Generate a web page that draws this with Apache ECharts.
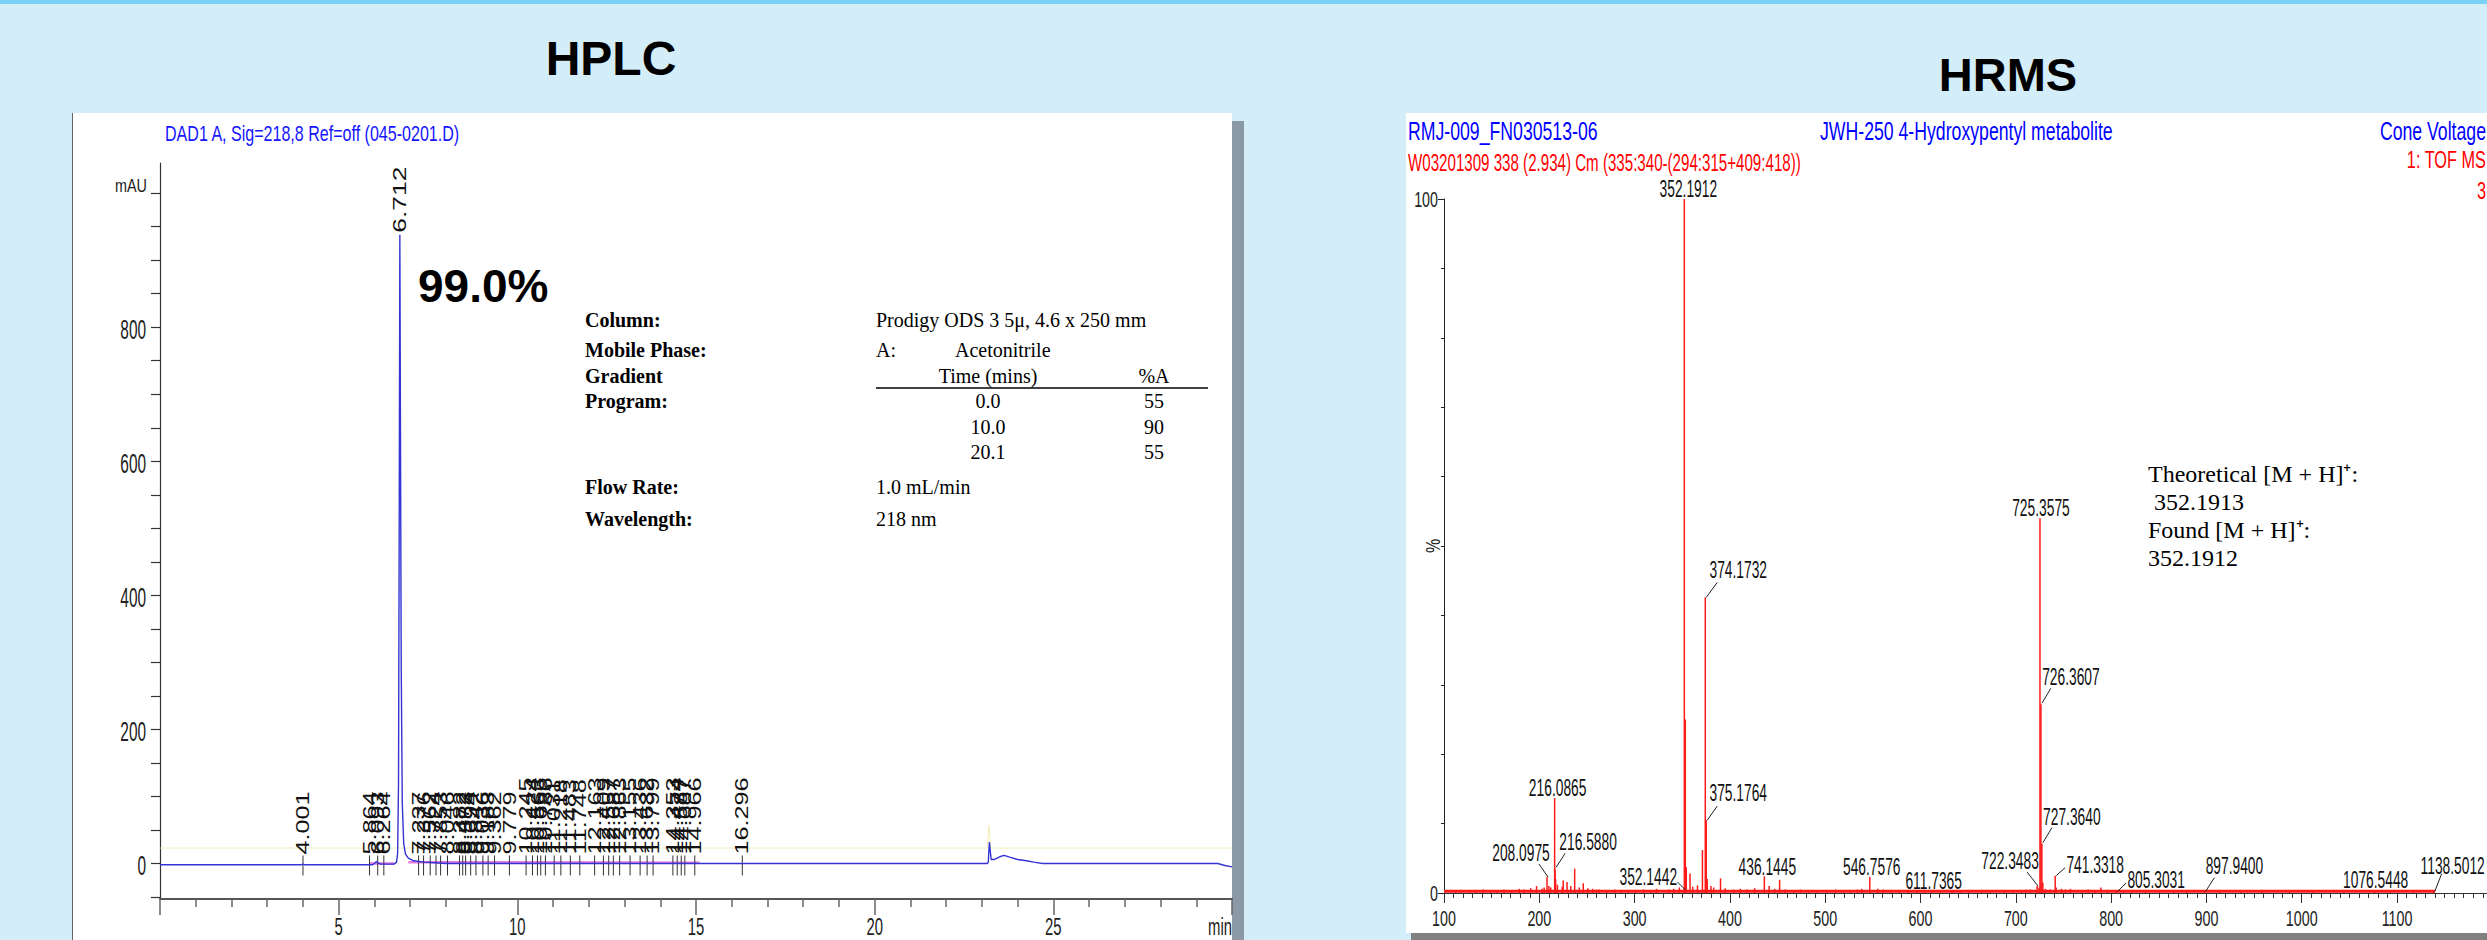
<!DOCTYPE html>
<html>
<head>
<meta charset="utf-8">
<script src="https://cdn.jsdelivr.net/npm/echarts@6/dist/echarts.min.js"></script>
<style>
html,body{margin:0;padding:0;}
body{width:2487px;height:940px;overflow:hidden;background:#d3edf9;position:relative;}
.strip{position:absolute;left:0;top:0;width:2487px;height:4px;background:#7cd2f6;}
.hplc-shadow{position:absolute;left:1232px;top:121px;width:12px;height:819px;background:#8b98a6;}
.hplc-panel{position:absolute;left:72px;top:113px;width:1160px;height:827px;background:#fff;border-left:1px solid #666;box-sizing:border-box;}
.hrms-shadow{position:absolute;left:1411px;top:933px;width:1076px;height:7px;background:#808080;}
.hrms-panel{position:absolute;left:1406px;top:113px;width:1081px;height:820px;background:#fff;}
#chart{position:absolute;left:0;top:0;width:2487px;height:940px;}
</style>
</head>
<body>
<div class="strip"></div>
<div class="hplc-shadow"></div>
<div class="hplc-panel"></div>
<div class="hrms-shadow"></div>
<div class="hrms-panel"></div>
<div id="chart"></div>
<script>
// ---------------- HPLC data ----------------
const hplcTime = [0, 3.95, 4.0, 4.05, 5.95, 6.02, 6.06, 6.1, 6.18, 6.55, 6.62, 6.65, 6.675, 6.695, 6.712, 6.73, 6.75, 6.78, 6.82, 6.87, 6.95, 7.1, 7.4, 8.0, 15.2, 23.15, 23.18, 23.21, 23.26, 23.35, 23.5, 23.62, 23.8, 24.0, 24.25, 24.45, 24.7, 29.6, 29.8, 30];
const hplcMAU  = [-2, -2, -1, -2, -2, 1, 3, 1, -1, -1, 2, 15, 120, 520, 938, 640, 300, 90, 30, 14, 8, 4, 2, 0, 0, 0, 2, 32, 6, 6, 10, 12, 9, 6, 4, 2, 0, 0, -3, -5];
const hplcRefTime = [0, 23.15, 23.2, 23.25, 30];
const hplcRefMAU  = [23, 23, 57, 23, 23];
const hplcIntTimeA = [5.85, 6.55];
const hplcIntMAUA  = [0, 0];
const hplcIntTimeB = [6.95, 15.1];
const hplcIntMAUB  = [2, 1];
const hplcPeakTimes = [4.001, 5.864, 6.093, 6.264, 7.237, 7.376, 7.562, 7.724, 7.853, 8.046, 8.382, 8.472, 8.553, 8.694, 8.842, 9.036, 9.183, 9.362, 9.779, 10.245, 10.424, 10.563, 10.655, 10.786, 11.031, 11.218, 11.483, 11.748, 12.163, 12.409, 12.557, 12.687, 12.863, 13.155, 13.436, 13.632, 13.799, 14.353, 14.474, 14.587, 14.687, 14.966, 16.296];
const hplcMainPeakTime = 6.712;
const hplcMainPeakHeight = 938;
const hplcXLabelValues = [5, 10, 15, 20, 25, 30];
const hplcXLabelTexts  = ['5', '10', '15', '20', '25', 'min'];
const hplcYLabelValues = [0, 200, 400, 600, 800];
const hplcYTickValues = [-50, 0, 50, 100, 150, 200, 250, 300, 350, 400, 450, 500, 550, 600, 650, 700, 750, 800, 850, 900, 950, 1000];

// ---------------- HRMS data ----------------
const msMz = [197.10, 205.07, 208.0975, 210.09, 216.0865, 216.5880, 217.09, 225.10, 229.12, 237.11, 246.13, 260.12, 352.1442, 352.1912, 353.1946, 354.1975, 358.17, 371.17, 374.1732, 375.1764, 376.18, 380.16, 390.17, 436.1445, 441.15, 452.15, 538.26, 546.7576, 555.26, 611.7365, 715.33, 722.3483, 724.35, 725.3575, 726.3607, 727.3640, 728.37, 741.3318, 742.33, 757.33, 789.31, 805.3031, 897.9400, 1076.5448, 1138.5012];
const msIntensity = [1.0, 0.8, 2.3, 1.0, 13.7, 3.4, 2.0, 1.8, 1.6, 3.5, 1.4, 0.5, 0.6, 100, 25.0, 3.7, 2.8, 6.2, 42.6, 10.5, 2.0, 1.0, 2.1, 2.4, 1.0, 1.9, 0.6, 2.3, 0.6, 0.3, 0.5, 1.0, 0.8, 54.0, 27.2, 7.1, 1.5, 2.5, 0.8, 0.6, 0.8, 0.3, 0.2, 0.2, 0.2];
const msNoiseMz = [112, 118, 127, 133, 141, 149, 156, 163, 171, 179, 184, 191, 203, 212, 219, 224, 233, 242, 251, 256, 263, 271, 279, 286, 293, 301, 309, 317, 323, 336, 341, 347, 361, 366, 383, 395, 404, 411, 418, 426, 447, 458, 467, 474, 483, 491, 502, 511, 519, 527, 534, 561, 569, 578, 587, 596, 604, 621, 633, 642, 651, 664, 673, 688, 697, 706, 711, 731, 736, 748, 752, 769, 776, 783, 796, 813, 822, 836, 851, 866, 879, 914, 936, 958, 987, 1012, 1044, 1093, 1117];
const msNoiseIntensity = [0.3, 0.2, 0.4, 0.3, 0.5, 0.3, 0.4, 0.5, 0.4, 0.6, 0.5, 0.7, 0.6, 0.8, 1.2, 0.9, 1.0, 0.8, 0.7, 0.6, 0.5, 0.4, 0.5, 0.4, 0.3, 0.4, 0.5, 0.4, 0.6, 0.5, 0.6, 0.8, 0.9, 1.1, 0.8, 0.7, 0.5, 0.6, 0.5, 0.7, 0.6, 0.5, 0.4, 0.5, 0.4, 0.3, 0.4, 0.5, 0.4, 0.3, 0.5, 0.5, 0.4, 0.3, 0.4, 0.3, 0.3, 0.3, 0.4, 0.3, 0.3, 0.4, 0.3, 0.3, 0.4, 0.4, 0.5, 0.6, 0.5, 0.6, 0.5, 0.4, 0.5, 0.4, 0.4, 0.3, 0.3, 0.3, 0.2, 0.3, 0.2, 0.2, 0.2, 0.2, 0.2, 0.2, 0.2, 0.2, 0.2];
const msBaselineMz = [100, 1140];
const msBaselineIntensity = [0.25, 0.25];
const msLabelMz = [352.1912, 374.1732, 375.1764, 216.0865, 216.5880, 208.0975, 352.1442, 436.1445, 546.7576, 611.7365, 722.3483, 725.3575, 726.3607, 727.3640, 741.3318, 805.3031, 897.9400, 1076.5448, 1138.5012];
const msXLabelValues = [100, 200, 300, 400, 500, 600, 700, 800, 900, 1000, 1100];
const msYLabelValues = [0, 100];

// label layout (pixel offsets from the peak top) - styling only
const msLabelLayout = [
  {dx: 4, dy: -10},
  {dx: 33, dy: -27, line: [1, 0, 12, -15]},
  {dx: 32, dy: -27, line: [1, 0, 11, -14]},
  {dx: 3, dy: -10},
  {dx: 33, dy: -27, line: [1, -2, 10, -16]},
  {dx: -26, dy: -24, line: [1, 0, -8, -13]},
  {dx: -36, dy: -12, line: [1, 1, -7, -7]},
  {dx: 3, dy: -9},
  {dx: 2, dy: -10},
  {dx: 2, dy: -10},
  {dx: -27, dy: -25, line: [1, 0, -10, -14]},
  {dx: 1, dy: -10},
  {dx: 30, dy: -27, line: [1, -1, 10, -16]},
  {dx: 30, dy: -27, line: [1, -1, 10, -16]},
  {dx: 40, dy: -11, line: [1, 0, 10, -8]},
  {dx: 40, dy: -11, line: [1, 1, 10, -8]},
  {dx: 30, dy: -25, line: [1, 0, 10, -14]},
  {dx: 1, dy: -11},
  {dx: 19, dy: -25, line: [1, 0, 8, -18]}
];

const SANS = '"Liberation Sans", Arial, Helvetica, sans-serif';
const SERIF = '"Liberation Serif", "Times New Roman", Times, serif';
const HPLC_Y_MIN = -53, HPLC_Y_MAX = 1045, HPLC_X_MIN = 0, HPLC_X_MAX = 30;
const MS_X_MIN = 100, MS_X_MAX = 1300, MS_Y_MIN = 0, MS_Y_MAX = 100;

function zip(a, b) { return a.map((v, i) => [v, b[i]]); }
function txt(x, y, text, o) {
  return {
    type: 'text', x: x, y: y, scaleX: o.sx || 1, rotation: o.rot || 0, silent: true, z: 10,
    style: {
      text: text, fill: o.color || '#000', fontSize: o.size, fontFamily: o.family || SANS,
      fontWeight: o.weight || 'normal', align: o.align || 'left', verticalAlign: o.va || 'middle'
    }
  };
}

const msLabelData = msLabelMz.map(m => [m, msIntensity[msMz.indexOf(m)]]);

const chart = echarts.init(document.getElementById('chart'), null, {renderer: 'svg', width: 2487, height: 940});

const graphicEls = [
  txt(611, 58, 'HPLC', {size: 48, weight: 'bold', align: 'center'}),
  txt(2008, 74, 'HRMS', {size: 47, weight: 'bold', align: 'center'}),
  // HPLC header
  txt(165, 134, 'DAD1 A, Sig=218,8 Ref=off (045-0201.D)', {size: 22, sx: 0.73, color: '#1515ff'}),
  txt(147, 185, 'mAU', {size: 18, sx: 0.8, color: '#222', align: 'right'}),
  txt(418, 286, '99.0%', {size: 46, weight: 'bold'}),
  // method table
  txt(585, 320, 'Column:', {size: 20, family: SERIF, weight: 'bold'}),
  txt(585, 350, 'Mobile Phase:', {size: 20, family: SERIF, weight: 'bold'}),
  txt(585, 376, 'Gradient', {size: 20, family: SERIF, weight: 'bold'}),
  txt(585, 401, 'Program:', {size: 20, family: SERIF, weight: 'bold'}),
  txt(585, 487, 'Flow Rate:', {size: 20, family: SERIF, weight: 'bold'}),
  txt(585, 519, 'Wavelength:', {size: 20, family: SERIF, weight: 'bold'}),
  txt(876, 320, 'Prodigy ODS 3 5\u03bc, 4.6 x 250 mm', {size: 20, family: SERIF}),
  txt(876, 350, 'A:', {size: 20, family: SERIF}),
  txt(955, 350, 'Acetonitrile', {size: 20, family: SERIF}),
  txt(988, 376, 'Time (mins)', {size: 20, family: SERIF, align: 'center'}),
  txt(1154, 376, '%A', {size: 20, family: SERIF, align: 'center'}),
  txt(988, 401, '0.0', {size: 20, family: SERIF, align: 'center'}),
  txt(1154, 401, '55', {size: 20, family: SERIF, align: 'center'}),
  txt(988, 427, '10.0', {size: 20, family: SERIF, align: 'center'}),
  txt(1154, 427, '90', {size: 20, family: SERIF, align: 'center'}),
  txt(988, 452, '20.1', {size: 20, family: SERIF, align: 'center'}),
  txt(1154, 452, '55', {size: 20, family: SERIF, align: 'center'}),
  txt(876, 487, '1.0 mL/min', {size: 20, family: SERIF}),
  txt(876, 519, '218 nm', {size: 20, family: SERIF}),
  {type: 'line', silent: true, shape: {x1: 876, y1: 388, x2: 1208, y2: 388}, style: {stroke: '#000', lineWidth: 1.5}},
  // HRMS header
  txt(1408, 131, 'RMJ-009_FN030513-06', {size: 26, sx: 0.68, color: '#0000ff'}),
  txt(1820, 131, 'JWH-250 4-Hydroxypentyl metabolite', {size: 26, sx: 0.68, color: '#0000ff'}),
  txt(2486, 131, 'Cone Voltage', {size: 26, sx: 0.68, color: '#0000ff', align: 'right'}),
  txt(1408, 163, 'W03201309 338 (2.934) Cm (335:340-(294:315+409:418))', {size: 24, sx: 0.63, color: '#ff0000'}),
  txt(2486, 159, '1: TOF MS', {size: 24, sx: 0.68, color: '#ff0000', align: 'right'}),
  txt(2486, 190, '3', {size: 24, sx: 0.68, color: '#ff0000', align: 'right'}),
  txt(1433, 546, '%', {size: 20, sx: 0.8, color: '#222', rot: Math.PI / 2, align: 'center'}),
  // HRMS annotation
  txt(2148, 474, 'Theoretical [M + H]\u207a:', {size: 24, family: SERIF}),
  txt(2148, 502, ' 352.1913', {size: 24, family: SERIF}),
  txt(2148, 530, 'Found [M + H]\u207a:', {size: 24, family: SERIF}),
  txt(2148, 558, '352.1912', {size: 24, family: SERIF})
];

function hplcPeakLabel(params, api) {
  const t = api.value(0);
  const b = api.coord([t, 0]);
  return {type: 'group', children: [
    {type: 'line', shape: {x1: b[0], y1: b[1] - 8, x2: b[0], y2: b[1] + 12}, style: {stroke: '#333', lineWidth: 1}},
    {type: 'text', x: b[0], y: b[1] - 9, rotation: Math.PI / 2, scaleX: 1.4,
      style: {text: t.toFixed(3), fill: '#111', fontSize: 18, fontFamily: SANS, align: 'left', verticalAlign: 'middle'}}
  ]};
}
function hplcMainLabel(params, api) {
  const p = api.coord([api.value(0), api.value(1)]);
  return {type: 'text', x: p[0], y: p[1] - 2, rotation: Math.PI / 2, scaleX: 1.39,
    style: {text: api.value(0).toFixed(3), fill: '#111', fontSize: 19, fontFamily: SANS, align: 'left', verticalAlign: 'middle'}};
}
function hplcXLabel(params, api) {
  const v = api.value(0);
  const p = api.coord([v, HPLC_Y_MIN]);
  const isEnd = v === HPLC_X_MAX;
  return {type: 'text', x: p[0], y: 939, scaleX: 0.62,
    style: {text: hplcXLabelTexts[params.dataIndex], fill: '#222', fontSize: 24, fontFamily: SANS, align: isEnd ? 'right' : 'center', verticalAlign: 'bottom'}};
}
function hplcYLabel(params, api) {
  const v = api.value(1);
  const p = api.coord([HPLC_X_MIN, v]);
  return {type: 'text', x: p[0] - 14, y: p[1] + 2, scaleX: 0.55,
    style: {text: String(v), fill: '#222', fontSize: 28, fontFamily: SANS, align: 'right', verticalAlign: 'middle'}};
}
function msLabelItem(params, api) {
  const p = api.coord([api.value(0), api.value(1)]);
  const L = msLabelLayout[params.dataIndex];
  const ch = [];
  if (L.line) {
    ch.push({type: 'line', shape: {x1: p[0] + L.line[0], y1: p[1] + L.line[1], x2: p[0] + L.line[2], y2: p[1] + L.line[3]}, style: {stroke: '#222', lineWidth: 1}});
  }
  ch.push({type: 'text', x: p[0] + L.dx, y: p[1] + L.dy, scaleX: 0.6,
    style: {text: msLabelMz[params.dataIndex].toFixed(4), fill: '#111', fontSize: 23, fontFamily: SANS, align: 'center', verticalAlign: 'middle'}});
  return {type: 'group', children: ch};
}
function msXLabel(params, api) {
  const p = api.coord([api.value(0), MS_Y_MIN]);
  return {type: 'text', x: p[0], y: p[1] + 25, scaleX: 0.65,
    style: {text: String(api.value(0)), fill: '#222', fontSize: 22, fontFamily: SANS, align: 'center', verticalAlign: 'middle'}};
}
function msYLabel(params, api) {
  const p = api.coord([MS_X_MIN, api.value(1)]);
  return {type: 'text', x: p[0] - 6, y: p[1], scaleX: 0.65,
    style: {text: String(api.value(1)), fill: '#222', fontSize: 22, fontFamily: SANS, align: 'right', verticalAlign: 'middle'}};
}

const option = {
  animation: false,
  backgroundColor: 'transparent',
  graphic: {elements: graphicEls},
  grid: [
    {left: 160, top: 163, width: 1072, height: 736, outerBoundsMode: 'none', containLabel: false},
    {left: 1444, top: 199, width: 1143.6, height: 694, outerBoundsMode: 'none', containLabel: false}
  ],
  xAxis: [
    {gridIndex: 0, type: 'value', min: HPLC_X_MIN, max: HPLC_X_MAX, interval: 5, position: 'bottom',
      axisLine: {show: true, onZero: false, lineStyle: {color: '#555', width: 2}},
      axisTick: {show: true, length: 16, lineStyle: {color: '#666', width: 1.5}},
      minorTick: {show: true, splitNumber: 5, length: 8, lineStyle: {color: '#666', width: 1.5}},
      axisLabel: {show: false}, splitLine: {show: false}, minorSplitLine: {show: false}},
    {gridIndex: 1, type: 'value', min: MS_X_MIN, max: MS_X_MAX, interval: 100, position: 'bottom',
      axisLine: {show: true, onZero: false, lineStyle: {color: '#333', width: 1}},
      axisTick: {show: true, length: 10, lineStyle: {color: '#333', width: 1}},
      minorTick: {show: true, splitNumber: 10, length: 5, lineStyle: {color: '#333', width: 1}},
      axisLabel: {show: false}, splitLine: {show: false}, minorSplitLine: {show: false}}
  ],
  yAxis: [
    {gridIndex: 0, type: 'value', min: HPLC_Y_MIN, max: HPLC_Y_MAX, position: 'left',
      axisLine: {show: true, onZero: false, lineStyle: {color: '#333', width: 1.2}},
      axisTick: {show: true, length: 9, customValues: hplcYTickValues, lineStyle: {color: '#333', width: 1.2}},
      axisLabel: {show: false}, splitLine: {show: false}},
    {gridIndex: 1, type: 'value', min: MS_Y_MIN, max: MS_Y_MAX, interval: 100, position: 'left',
      axisLine: {show: true, onZero: false, lineStyle: {color: '#222', width: 1}},
      axisTick: {show: true, length: 6, lineStyle: {color: '#222', width: 1}},
      minorTick: {show: true, splitNumber: 10, length: 3, lineStyle: {color: '#222', width: 1}},
      axisLabel: {show: false}, splitLine: {show: false}, minorSplitLine: {show: false}}
  ],
  series: [
    {type: 'line', xAxisIndex: 0, yAxisIndex: 0, data: zip(hplcRefTime, hplcRefMAU), symbol: 'none', silent: true,
      lineStyle: {color: '#f0e6a0', width: 1, opacity: 0.7}, z: 1},
    {type: 'line', xAxisIndex: 0, yAxisIndex: 0, data: zip(hplcIntTimeA, hplcIntMAUA), symbol: 'none', silent: true,
      lineStyle: {color: '#e07be0', width: 2.5}, z: 2},
    {type: 'line', xAxisIndex: 0, yAxisIndex: 0, data: zip(hplcIntTimeB, hplcIntMAUB), symbol: 'none', silent: true,
      lineStyle: {color: '#e07be0', width: 2.5}, z: 2},
    {type: 'custom', xAxisIndex: 0, yAxisIndex: 0, data: hplcPeakTimes.map(t => [t, 0]), renderItem: hplcPeakLabel, clip: false, silent: true, z: 3},
    {type: 'line', xAxisIndex: 0, yAxisIndex: 0, data: zip(hplcTime, hplcMAU), symbol: 'none', silent: true,
      lineStyle: {color: '#3434d4', width: 1.4}, z: 4},
    {type: 'custom', xAxisIndex: 0, yAxisIndex: 0, data: [[hplcMainPeakTime, hplcMainPeakHeight]], renderItem: hplcMainLabel, clip: false, silent: true, z: 5},
    {type: 'custom', xAxisIndex: 0, yAxisIndex: 0, data: hplcXLabelValues.map(v => [v, 0]), renderItem: hplcXLabel, clip: false, silent: true, z: 5},
    {type: 'custom', xAxisIndex: 0, yAxisIndex: 0, data: hplcYLabelValues.map(v => [0, v]), renderItem: hplcYLabel, clip: false, silent: true, z: 5},

    {type: 'line', xAxisIndex: 1, yAxisIndex: 1, data: zip(msBaselineMz, msBaselineIntensity), symbol: 'none', silent: true,
      lineStyle: {color: '#ff1a1a', width: 3}, z: 3},
    {type: 'bar', xAxisIndex: 1, yAxisIndex: 1, data: zip(msNoiseMz, msNoiseIntensity).concat(zip(msMz, msIntensity)),
      barWidth: 1.5, itemStyle: {color: '#ff1a1a'}, silent: true, z: 4},
    {type: 'custom', xAxisIndex: 1, yAxisIndex: 1, data: msLabelData, renderItem: msLabelItem, clip: false, silent: true, z: 5},
    {type: 'custom', xAxisIndex: 1, yAxisIndex: 1, data: msXLabelValues.map(v => [v, 0]), renderItem: msXLabel, clip: false, silent: true, z: 5},
    {type: 'custom', xAxisIndex: 1, yAxisIndex: 1, data: msYLabelValues.map(v => [MS_X_MIN, v]), renderItem: msYLabel, clip: false, silent: true, z: 5}
  ]
};
chart.setOption(option);
</script>
</body>
</html>
